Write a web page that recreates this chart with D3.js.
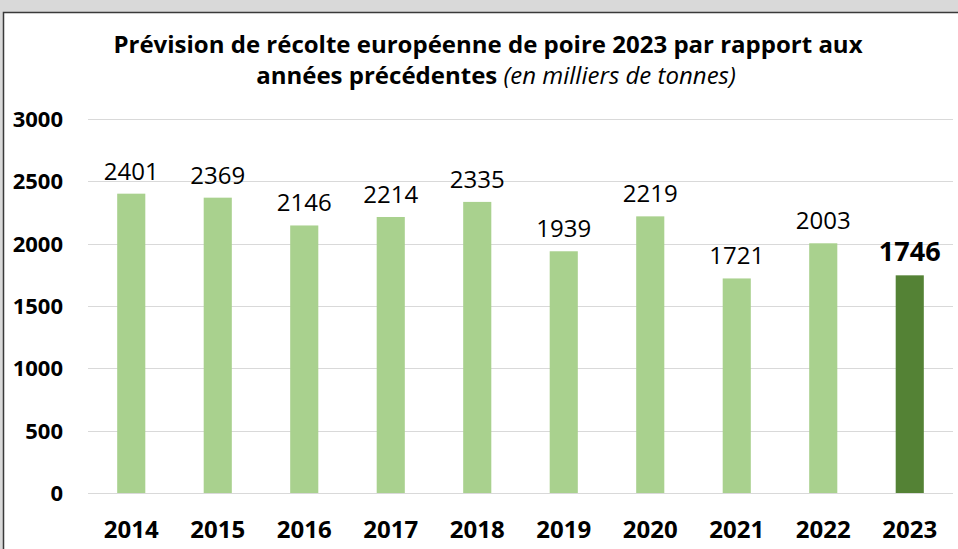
<!DOCTYPE html>
<html lang="fr">
<head>
<meta charset="utf-8">
<script src="https://d3js.org/d3.v7.min.js"></script>
<style>
  body { margin: 0; background: #d9d9d9; }
  svg { display: block; font-family: "Open Sans", "Noto Sans", sans-serif; }
</style>
</head>
<body>
<div id="chart"></div>
<script>
  // data
  var years = ["2014", "2015", "2016", "2017", "2018", "2019", "2020", "2021", "2022", "2023"];
  var harvest = [2401, 2369, 2146, 2214, 2335, 1939, 2219, 1721, 2003, 1746];
  var yTicks = [0, 500, 1000, 1500, 2000, 2500, 3000];

  var width = 958, height = 549;

  var svg = d3.select("#chart").append("svg")
    .attr("width", width)
    .attr("height", height);

  // white panel with dark border
  svg.append("rect")
    .attr("x", 3.5).attr("y", 12.5)
    .attr("width", 980).attr("height", 600)
    .attr("fill", "#fff")
    .attr("stroke", "#3a3a3a")
    .attr("stroke-width", 1.5);

  var x = d3.scaleBand().domain(years).range([88, 953]).paddingInner(0.675).paddingOuter(0.3375);
  var y = d3.scaleLinear().domain([0, 3000]).range([493, 119]);

  // gridlines
  svg.append("g").selectAll("line")
    .data(yTicks)
    .enter().append("line")
    .attr("x1", 88).attr("x2", 953)
    .attr("y1", function(d) { return Math.round(y(d)) + 0.5; })
    .attr("y2", function(d) { return Math.round(y(d)) + 0.5; })
    .attr("stroke", "#d9d9d9")
    .attr("stroke-width", 1.2);

  // y axis labels
  svg.append("g").selectAll("text")
    .data(yTicks)
    .enter().append("text")
    .attr("x", 63)
    .attr("y", function(d) { return y(d) + 8; })
    .attr("text-anchor", "end")
    .attr("font-weight", "bold")
    .attr("font-size", 22)
    .text(function(d) { return d; });

  // bars
  svg.append("g").selectAll("rect")
    .data(harvest)
    .enter().append("rect")
    .attr("x", function(d, i) { return x(years[i]); })
    .attr("width", x.bandwidth())
    .attr("y", function(d) { return y(d); })
    .attr("height", function(d) { return y(0) - y(d); })
    .attr("fill", function(d, i) { return i === years.length - 1 ? "#548235" : "#a9d18e"; });

  // value labels
  svg.append("g").selectAll("text")
    .data(harvest)
    .enter().append("text")
    .attr("x", function(d, i) { return x(years[i]) + x.bandwidth() / 2; })
    .attr("y", function(d) { return y(d) - 14; })
    .attr("text-anchor", "middle")
    .attr("font-size", function(d, i) { return i === years.length - 1 ? 27 : 24; })
    .attr("font-weight", function(d, i) { return i === years.length - 1 ? "bold" : "normal"; })
    .attr("fill", "#000")
    .text(function(d) { return d; });

  // x axis labels
  svg.append("g").selectAll("text")
    .data(years)
    .enter().append("text")
    .attr("x", function(d) { return x(d) + x.bandwidth() / 2; })
    .attr("y", 538)
    .attr("text-anchor", "middle")
    .attr("font-weight", "bold")
    .attr("font-size", 24)
    .text(function(d) { return d; });

  // title
  var title = svg.append("text")
    .attr("text-anchor", "middle")
    .attr("font-size", 24)
    .attr("font-weight", "bold");
  title.append("tspan").attr("x", 488).attr("y", 53)
    .text("Prévision de récolte européenne de poire 2023 par rapport aux");
  title.append("tspan").attr("x", 496).attr("y", 84)
    .text("années précédentes ");
  title.append("tspan")
    .attr("font-weight", "normal").attr("font-style", "italic")
    .text("(en milliers de tonnes)");
</script>
</body>
</html>
